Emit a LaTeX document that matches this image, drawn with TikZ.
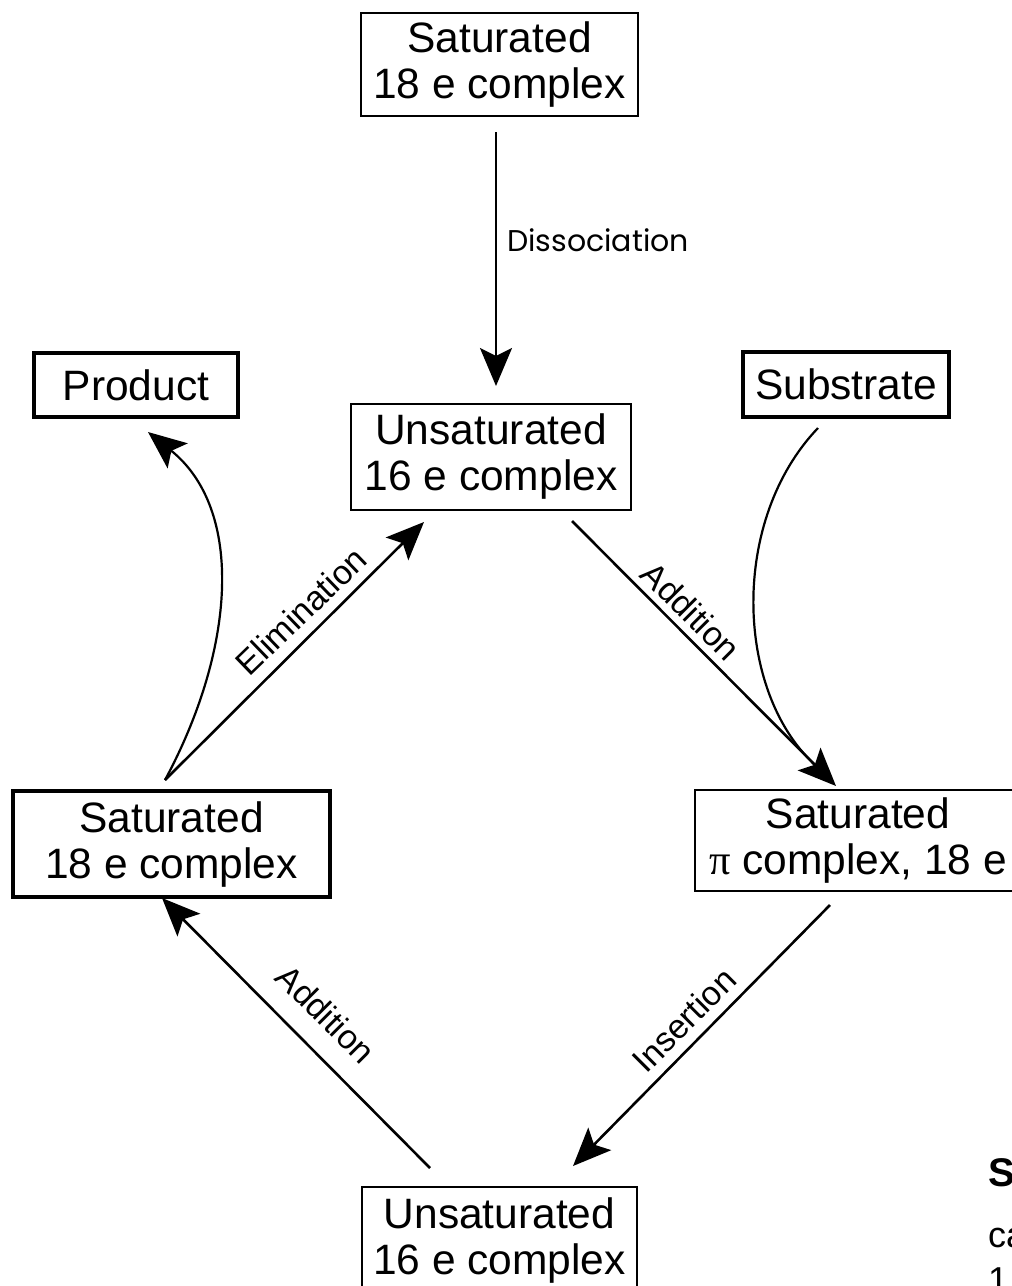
\documentclass[tikz,border=0pt]{standalone}
\usepackage{fontspec}
\setmainfont{Liberation Sans}
\newfontfamily\geofont{Poppins}
\newfontfamily\pifont{Liberation Serif}
\usetikzlibrary{arrows.meta}
\begin{document}
\begin{tikzpicture}[x=1pt,y=-1pt,
  boxtext/.style={font=\fontsize{42.5}{46}\selectfont, align=center, inner sep=0pt},
  thinbox/.style={boxtext, draw, line width=1.8pt},
  thickbox/.style={boxtext, draw, line width=3.6pt},
  lbl/.style={font=\fontsize{34}{40}\selectfont, inner sep=0pt},
  tip/.style={-{Stealth[length=38pt,width=32pt,inset=8pt]}},
  arr/.style={line width=2.6pt, tip},
  curv/.style={line width=2.2pt},
]
\useasboundingbox (0,0) rectangle (1012,1286);
\clip (0,0) rectangle (1012,1286);
\fill[white] (0,0) rectangle (1012,1286);

% boxes
\node[thinbox, minimum width=277pt, minimum height=103pt] (top) at (499.5,64.5) {Saturated\\18 e complex};
\node[thickbox, minimum width=204pt, minimum height=64pt] (product) at (136,385) {Product};
\node[thinbox, minimum width=280pt, minimum height=106pt] (unsat) at (491,457) {Unsaturated\\16 e complex};
\node[thickbox, minimum width=206pt, minimum height=65pt] (substrate) at (846,384.5) {Substrate};
\node[thickbox, minimum width=317pt, minimum height=106pt] (left) at (171.5,844) {Saturated\\18 e complex};
\node[thinbox, minimum width=326pt, minimum height=101pt] (right) at (858,840.5) {Saturated\\{\pifont π} complex, 18 e};
\node[thinbox, minimum width=275pt, minimum height=106pt] (bottom) at (499.5,1240) {Unsaturated\\16 e complex};

% connector end points
\coordinate (dS) at (496,132);
\coordinate (dE) at (496,386);
\coordinate (eS) at (165,780);
\coordinate (eE) at (424,522);
\coordinate (pE) at (148,432);
\coordinate (aS) at (572,521);
\coordinate (aE) at (836,786);
\coordinate (aJ) at (814,764);
\coordinate (sS) at (818,428);
\coordinate (iS) at (830,905);
\coordinate (iE) at (573,1166);
\coordinate (bS) at (430,1168);
\coordinate (bE) at (162,898);

% connectors
\draw[arr] (dS) -- (dE);
\draw[arr] (eS) -- (eE);
\draw[curv, tip] (eS) .. controls (235,650) and (245,510) .. (pE);
\draw[arr] (aS) -- (aE);
\draw[curv] (sS) .. controls (730,520) and (735,690) .. (aJ);
\draw[arr] (iS) -- (iE);
\draw[arr] (bS) -- (bE);

% labels
\node[font=\geofont\fontsize{30}{36}\selectfont, anchor=west, inner sep=0pt] (diss) at (507,240) {Dissociation};
\node[lbl, rotate=44] (elim) at (301,611) {Elimination};
\node[lbl, rotate=-45] (add1) at (691,611) {Addition};
\node[lbl, rotate=45] (ins) at (684,1020) {Insertion};
\node[lbl, rotate=-45] (add2) at (326,1014) {Addition};

% caption fragments at the edge
\node[font=\bfseries\fontsize{40}{44}\selectfont, anchor=base west, inner sep=0pt] (capS) at (988,1186) {S};
\node[font=\fontsize{36}{40}\selectfont, anchor=base west, inner sep=0pt] (capca) at (988,1247) {ca};
\node[font=\fontsize{36}{40}\selectfont, anchor=base west, inner sep=0pt] (capone) at (988,1292) {1};
\end{tikzpicture}
\end{document}
